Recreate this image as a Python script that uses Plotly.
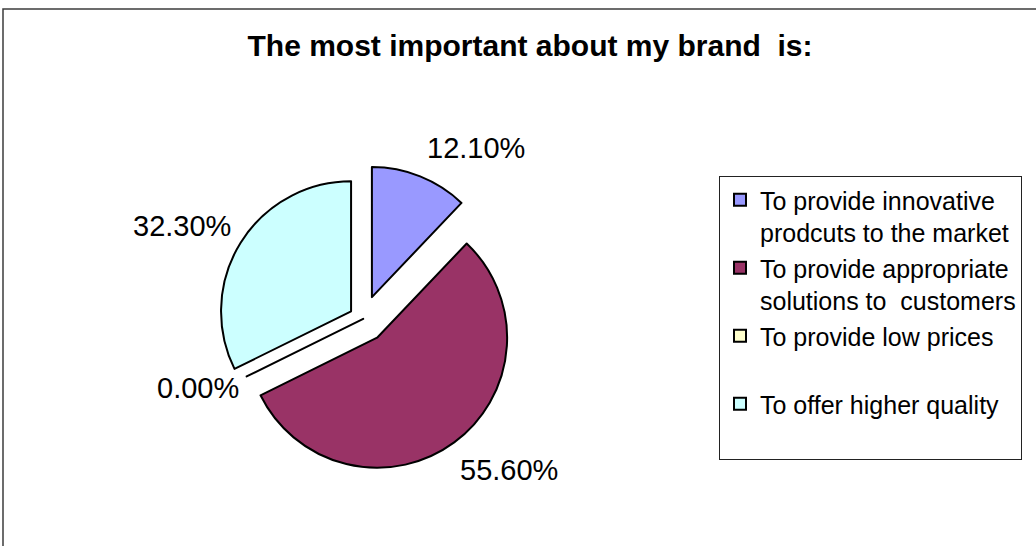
import plotly.graph_objects as go

# Survey answers and their shares (percent)
categories = [
    "To provide innovative<br>prodcuts to the market",
    "To provide appropriate<br>solutions to\u00a0 customers",
    "To provide low prices<br> ",
    "To offer higher quality<br> ",
]
shares = [12.10, 55.60, 0.00, 32.30]

slice_colors = ["#9999FF", "#993366", "#FFFFCC", "#CCFFFF"]
slice_pull = [0.18, 0.18, 0.0, 0.11]

# Pixel centres of the percentage labels, one per slice (same order as shares)
label_pos = [(476, 148), (509, 470), (198, 388), (182, 226)]

W, H = 1036, 546
FONT = "Liberation Sans, Arial, sans-serif"

fig = go.Figure(
    go.Pie(
        labels=categories,
        values=shares,
        sort=False,
        direction="clockwise",
        rotation=0,
        pull=slice_pull,
        marker=dict(colors=slice_colors, line=dict(color="black", width=2)),
        textinfo="none",
        domain=dict(x=[0.2025, 0.4987], y=[0.135, 0.697]),
        hoverinfo="label+percent",
    )
)

annotations = [
    dict(
        text=f"{v:.2f}%",
        x=px / W,
        y=1 - py / H,
        xref="paper",
        yref="paper",
        xanchor="center",
        yanchor="middle",
        showarrow=False,
        font=dict(family=FONT, size=29, color="black"),
    )
    for v, (px, py) in zip(shares, label_pos)
]

fig.update_layout(
    width=W,
    height=H,
    margin=dict(l=0, r=0, t=0, b=0),
    paper_bgcolor="white",
    plot_bgcolor="white",
    font=dict(family=FONT, color="black"),
    title=dict(
        text="<b>The most important about my brand\u00a0 is:</b>",
        x=0.5116,
        xanchor="center",
        y=0.916,
        yanchor="middle",
        font=dict(family=FONT, size=30, color="black"),
    ),
    legend=dict(
        x=719 / W,
        y=1 - 176 / H,
        xanchor="left",
        yanchor="top",
        bgcolor="white",
        bordercolor="#222222",
        borderwidth=1,
        valign="top",
        tracegroupgap=0,
        font=dict(family=FONT, size=25, color="black"),
    ),
    annotations=annotations,
    shapes=[
        # chart area frame
        dict(
            type="rect",
            xref="paper",
            yref="paper",
            x0=3 / W,
            x1=1.1,
            y0=-0.1,
            y1=1 - 9 / H,
            line=dict(color="#3c3c3c", width=1.5),
            fillcolor="rgba(0,0,0,0)",
            layer="below",
        )
    ],
)

fig.write_html("out.html")
